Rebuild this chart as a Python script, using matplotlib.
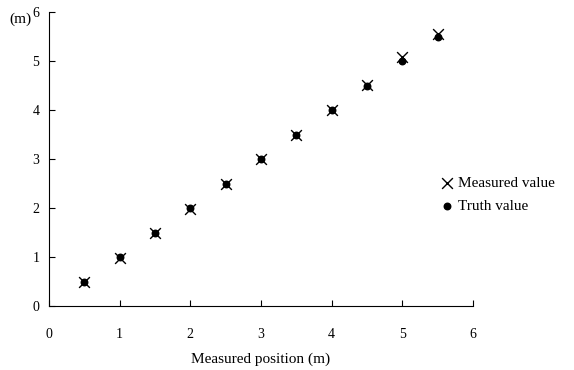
import matplotlib
matplotlib.use("Agg")
import matplotlib.pyplot as plt

positions = [0.5, 1.0, 1.5, 2.0, 2.5, 3.0, 3.5, 4.0, 4.5, 5.0, 5.5]
measured = [0.48, 0.97, 1.48, 1.98, 2.50, 3.00, 3.50, 4.00, 4.52, 5.08, 5.55]
truth = [0.5, 1.0, 1.5, 2.0, 2.5, 3.0, 3.5, 4.0, 4.5, 5.0, 5.5]
xticks = [0, 1, 2, 3, 4, 5, 6]
yticks = [0, 1, 2, 3, 4, 5, 6]

fam = ['Liberation Serif', 'Noto Sans CJK SC']
plt.rcParams['font.family'] = fam

fig = plt.figure(figsize=(5.74, 3.70), dpi=100)
ax = fig.add_axes([49/574, 1-306/370, (473-49)/574, (306-12)/370])

ax.scatter(positions, measured, marker='x', s=60, color='black', linewidths=1.0,
           label='Measured value', zorder=3)
ax.scatter(positions, truth, marker='o', s=22, color='black', label='Truth value', zorder=4)

ax.set_xlim(0, 6)
ax.set_ylim(0, 6)
ax.set_xticks(xticks)
ax.set_yticks(yticks)
ax.spines['top'].set_visible(False)
ax.spines['right'].set_visible(False)
ax.tick_params(axis='x', direction='in', length=4, pad=16, labelsize=10)
ax.tick_params(axis='y', direction='in', length=4, pad=7, labelsize=10)
ax.set_xlabel('Measured position (m)', fontsize=11, labelpad=8)
fig.text(31/574, 1-19/370, '(m)', fontsize=11, ha='right', va='center')

leg = fig.legend(loc='center left', bbox_to_anchor=(424/574, 1-195/370), frameon=False,
                 fontsize=11, handletextpad=0.1, handlelength=1.2, labelspacing=0.6)

fig.savefig('out.png', dpi=100)
